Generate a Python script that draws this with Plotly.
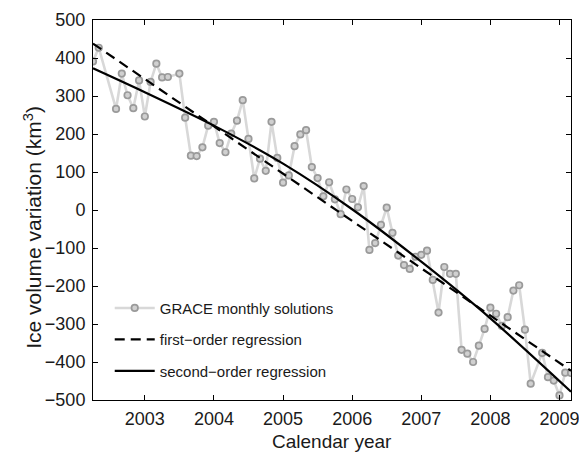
import plotly.graph_objects as go

# GRACE monthly solutions (decimal year = year + (month-1)/12)
months = [
    (2002, 4), (2002, 5), (2002, 8), (2002, 9), (2002, 10), (2002, 11), (2002, 12),
    (2003, 1), (2003, 2), (2003, 3), (2003, 4), (2003, 5), (2003, 7), (2003, 8),
    (2003, 9), (2003, 10), (2003, 11), (2003, 12),
    (2004, 1), (2004, 2), (2004, 3), (2004, 4), (2004, 5), (2004, 6), (2004, 7),
    (2004, 8), (2004, 9), (2004, 10), (2004, 11), (2004, 12),
    (2005, 1), (2005, 2), (2005, 3), (2005, 4), (2005, 5), (2005, 6), (2005, 7),
    (2005, 8), (2005, 9), (2005, 10), (2005, 11), (2005, 12),
    (2006, 1), (2006, 2), (2006, 3), (2006, 4), (2006, 5), (2006, 6), (2006, 7),
    (2006, 8), (2006, 9), (2006, 10), (2006, 11), (2006, 12),
    (2007, 1), (2007, 2), (2007, 3), (2007, 4), (2007, 5), (2007, 6), (2007, 7),
    (2007, 8), (2007, 9), (2007, 10), (2007, 11), (2007, 12),
    (2008, 1), (2008, 2), (2008, 3), (2008, 4), (2008, 5), (2008, 6), (2008, 7),
    (2008, 8), (2008, 10), (2008, 11), (2008, 12),
    (2009, 1), (2009, 2), (2009, 3),
]
grace_values = [
    391, 427, 266, 359, 302, 268, 341,
    246, 337, 385, 349, 350, 359, 243, 143, 142, 165, 222,
    232, 176, 152, 201, 235, 289, 187, 83, 135, 103, 232, 137,
    72, 91, 168, 199, 210, 113, 84, 36, 73, 28, -11, 54,
    29, 7, 63, -105, -87, -39, 6, -60, -120, -145, -155, -123,
    -118, -107, -184, -270, -150, -168, -168, -368, -378, -400, -357, -313,
    -257, -273, -305, -282, -212, -198, -315, -457, -376, -440, -449,
    -488, -428, -429,
]
grace_years = [y + (m - 1) / 12 for y, m in months]

# Regression lines
first_x = [2002.25, 2009 + 2 / 12]
first_y = [438, -423]
second_x = [2002.25, 2003, 2004, 2005, 2006, 2007, 2008, 2009 + 2 / 12]
second_y = [373, 310, 222, 122, 2, -136, -285, -478]

x_ticks = [2003, 2004, 2005, 2006, 2007, 2008, 2009]
y_ticks = list(range(-500, 501, 100))

x_title = "Calendar year"
y_title = "Ice volume variation (km<sup>3</sup>)"

FONT = "Liberation Sans, Arial, Helvetica, sans-serif"
TXT = "#1a1a1a"

fig = go.Figure()
fig.add_trace(go.Scatter(
    x=grace_years, y=grace_values, mode="lines+markers",
    name="GRACE monthly solutions", legendgroup="a",
    line=dict(color="#d8d8d8", width=2.6),
    marker=dict(symbol="circle", size=6.5, color="#d0d0d0",
                line=dict(color="#9a9a9a", width=1.7)),
))
fig.add_trace(go.Scatter(
    x=first_x, y=first_y, mode="lines", name="first\u2212order regression",
    legendgroup="b",
    line=dict(color="black", width=2.2, dash="10px,6px"),
))
fig.add_trace(go.Scatter(
    x=second_x, y=second_y, mode="lines", name="second\u2212order regression",
    legendgroup="c",
    line=dict(color="black", width=2.2, shape="spline", smoothing=0.8),
))

axis_common = dict(
    showline=True, linecolor="black", linewidth=1, mirror="ticks",
    ticks="inside", ticklen=5, tickwidth=1, tickcolor="black",
    showgrid=False, zeroline=False, automargin=False,
    ticklabeloverflow="allow",
    tickfont=dict(family=FONT, size=18, color=TXT),
)
fig.update_xaxes(
    range=[2002.25, 2009 + 2 / 12], tickvals=x_ticks,
    ticktext=[str(t) for t in x_ticks],
    ticklabelstandoff=2,
    **axis_common,
)
fig.update_yaxes(
    range=[-500, 500], tickvals=y_ticks,
    ticktext=[(("\u2212" + str(-t)) if t < 0 else str(t)) for t in y_ticks],
    ticklabelstandoff=3,
    **axis_common,
)
# axis titles as text placed like the reference
fig.add_annotation(
    text=x_title, showarrow=False,
    xref="paper", yref="paper", x=0.5, y=-0.108,
    xanchor="center", yanchor="middle",
    font=dict(family=FONT, size=19, color=TXT),
)
fig.add_annotation(
    text=y_title, textangle=-90, showarrow=False,
    xref="paper", yref="paper", x=-0.126, y=0.455,
    xanchor="center", yanchor="middle",
    font=dict(family=FONT, size=21, color=TXT),
)
fig.update_layout(
    width=579, height=453,
    margin=dict(l=93, r=8, t=20, b=53),
    plot_bgcolor="white", paper_bgcolor="white",
    font=dict(family=FONT, color=TXT),
    legend=dict(
        x=0.035, y=0.285, xanchor="left", yanchor="top",
        bgcolor="rgba(0,0,0,0)", borderwidth=0,
        font=dict(family=FONT, size=15, color=TXT),
        traceorder="grouped", tracegroupgap=9, itemwidth=40,
    ),
)
fig.write_html(
    "out.html",
    config={"displayModeBar": False},
    post_script="document.body.style.margin='0';document.body.style.overflow='hidden';",
)
